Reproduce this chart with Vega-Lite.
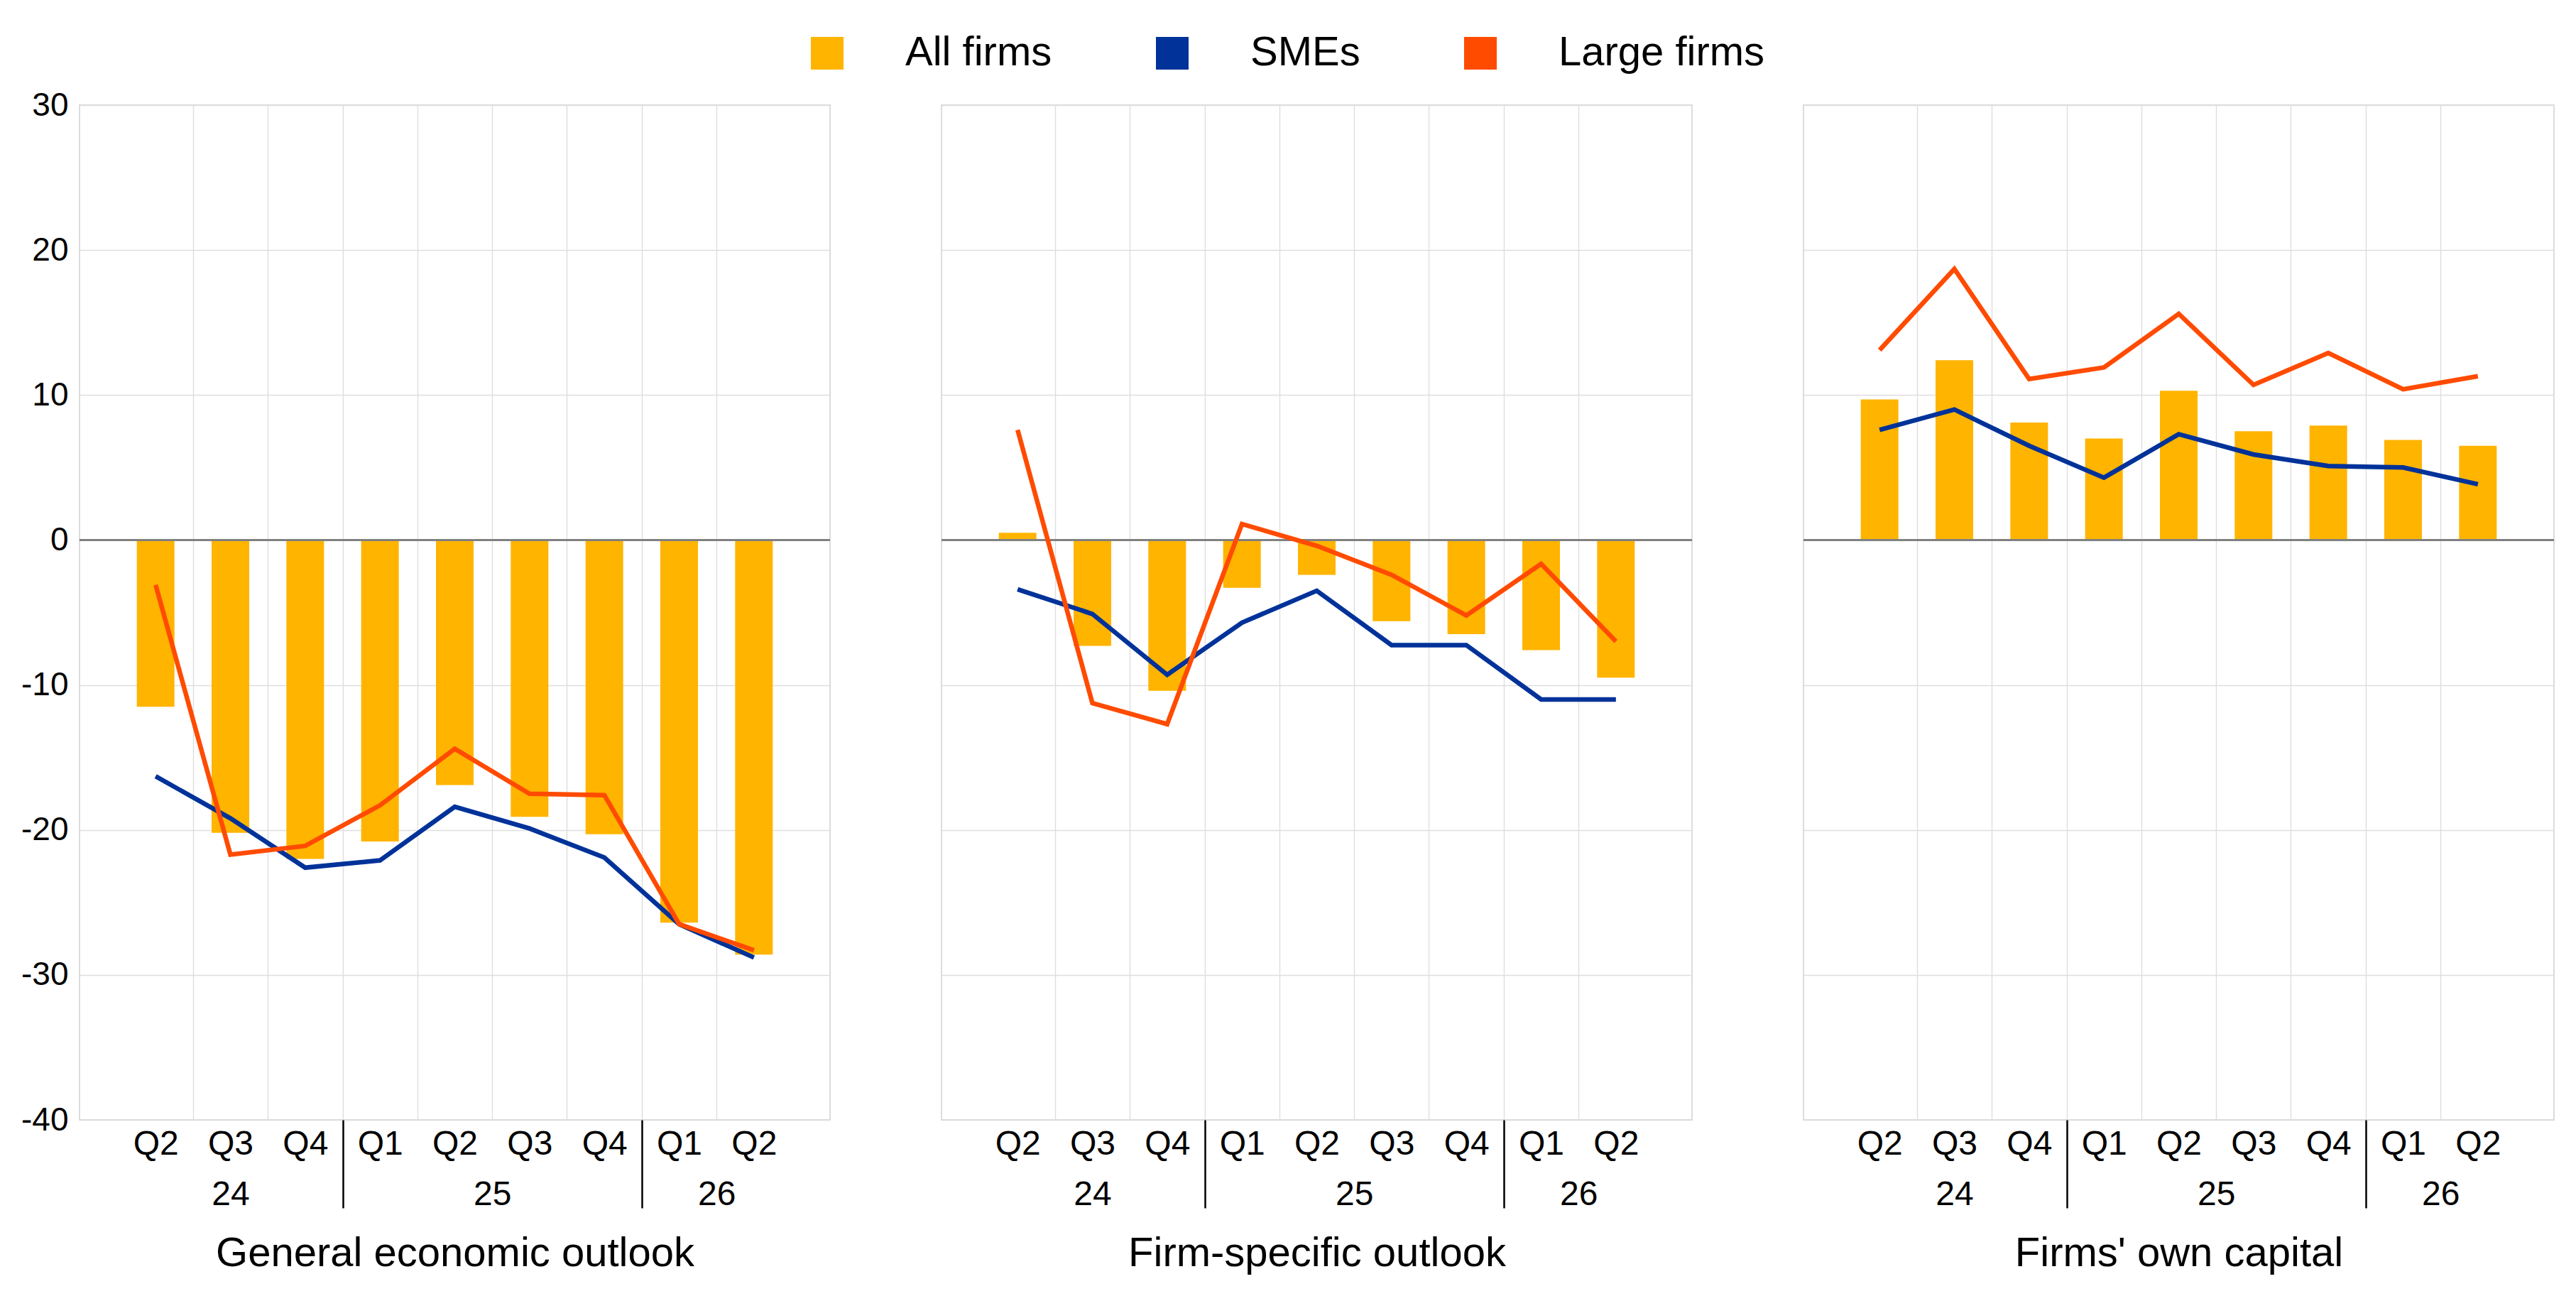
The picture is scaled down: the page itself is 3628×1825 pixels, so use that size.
{
  "$schema": "https://vega.github.io/schema/vega-lite/v6.json",
  "padding": {"left": 28, "top": 46, "right": 0, "bottom": 0},
  "background": "white",
  "config": {
    "font": "Liberation Sans",
    "view": {"stroke": "#d9d9d9", "strokeWidth": 1.8},
    "axis": {"labelFont": "Liberation Sans", "titleFont": "Liberation Sans", "labelColor": "black", "titleColor": "black", "gridColor": "#dedede", "gridWidth": 1.4},
    "legend": {"labelFont": "Liberation Sans"}
  },
  "data": {"values": [
    {"panel": "General economic outlook", "idx": 1, "quarter": "Q2", "year": "24", "series": "All firms", "value": -11.5},
    {"panel": "General economic outlook", "idx": 2, "quarter": "Q3", "year": "24", "series": "All firms", "value": -20.2},
    {"panel": "General economic outlook", "idx": 3, "quarter": "Q4", "year": "24", "series": "All firms", "value": -22.0},
    {"panel": "General economic outlook", "idx": 4, "quarter": "Q1", "year": "25", "series": "All firms", "value": -20.8},
    {"panel": "General economic outlook", "idx": 5, "quarter": "Q2", "year": "25", "series": "All firms", "value": -16.9},
    {"panel": "General economic outlook", "idx": 6, "quarter": "Q3", "year": "25", "series": "All firms", "value": -19.1},
    {"panel": "General economic outlook", "idx": 7, "quarter": "Q4", "year": "25", "series": "All firms", "value": -20.3},
    {"panel": "General economic outlook", "idx": 8, "quarter": "Q1", "year": "26", "series": "All firms", "value": -26.4},
    {"panel": "General economic outlook", "idx": 9, "quarter": "Q2", "year": "26", "series": "All firms", "value": -28.6},
    {"panel": "General economic outlook", "idx": 1, "quarter": "Q2", "year": "24", "series": "SMEs", "value": -16.3},
    {"panel": "General economic outlook", "idx": 2, "quarter": "Q3", "year": "24", "series": "SMEs", "value": -19.2},
    {"panel": "General economic outlook", "idx": 3, "quarter": "Q4", "year": "24", "series": "SMEs", "value": -22.6},
    {"panel": "General economic outlook", "idx": 4, "quarter": "Q1", "year": "25", "series": "SMEs", "value": -22.1},
    {"panel": "General economic outlook", "idx": 5, "quarter": "Q2", "year": "25", "series": "SMEs", "value": -18.4},
    {"panel": "General economic outlook", "idx": 6, "quarter": "Q3", "year": "25", "series": "SMEs", "value": -19.9},
    {"panel": "General economic outlook", "idx": 7, "quarter": "Q4", "year": "25", "series": "SMEs", "value": -21.9},
    {"panel": "General economic outlook", "idx": 8, "quarter": "Q1", "year": "26", "series": "SMEs", "value": -26.5},
    {"panel": "General economic outlook", "idx": 9, "quarter": "Q2", "year": "26", "series": "SMEs", "value": -28.8},
    {"panel": "General economic outlook", "idx": 1, "quarter": "Q2", "year": "24", "series": "Large firms", "value": -3.1},
    {"panel": "General economic outlook", "idx": 2, "quarter": "Q3", "year": "24", "series": "Large firms", "value": -21.7},
    {"panel": "General economic outlook", "idx": 3, "quarter": "Q4", "year": "24", "series": "Large firms", "value": -21.1},
    {"panel": "General economic outlook", "idx": 4, "quarter": "Q1", "year": "25", "series": "Large firms", "value": -18.3},
    {"panel": "General economic outlook", "idx": 5, "quarter": "Q2", "year": "25", "series": "Large firms", "value": -14.4},
    {"panel": "General economic outlook", "idx": 6, "quarter": "Q3", "year": "25", "series": "Large firms", "value": -17.5},
    {"panel": "General economic outlook", "idx": 7, "quarter": "Q4", "year": "25", "series": "Large firms", "value": -17.6},
    {"panel": "General economic outlook", "idx": 8, "quarter": "Q1", "year": "26", "series": "Large firms", "value": -26.5},
    {"panel": "General economic outlook", "idx": 9, "quarter": "Q2", "year": "26", "series": "Large firms", "value": -28.3},

    {"panel": "Firm-specific outlook", "idx": 1, "quarter": "Q2", "year": "24", "series": "All firms", "value": 0.5},
    {"panel": "Firm-specific outlook", "idx": 2, "quarter": "Q3", "year": "24", "series": "All firms", "value": -7.3},
    {"panel": "Firm-specific outlook", "idx": 3, "quarter": "Q4", "year": "24", "series": "All firms", "value": -10.4},
    {"panel": "Firm-specific outlook", "idx": 4, "quarter": "Q1", "year": "25", "series": "All firms", "value": -3.3},
    {"panel": "Firm-specific outlook", "idx": 5, "quarter": "Q2", "year": "25", "series": "All firms", "value": -2.4},
    {"panel": "Firm-specific outlook", "idx": 6, "quarter": "Q3", "year": "25", "series": "All firms", "value": -5.6},
    {"panel": "Firm-specific outlook", "idx": 7, "quarter": "Q4", "year": "25", "series": "All firms", "value": -6.5},
    {"panel": "Firm-specific outlook", "idx": 8, "quarter": "Q1", "year": "26", "series": "All firms", "value": -7.6},
    {"panel": "Firm-specific outlook", "idx": 9, "quarter": "Q2", "year": "26", "series": "All firms", "value": -9.5},
    {"panel": "Firm-specific outlook", "idx": 1, "quarter": "Q2", "year": "24", "series": "SMEs", "value": -3.4},
    {"panel": "Firm-specific outlook", "idx": 2, "quarter": "Q3", "year": "24", "series": "SMEs", "value": -5.1},
    {"panel": "Firm-specific outlook", "idx": 3, "quarter": "Q4", "year": "24", "series": "SMEs", "value": -9.3},
    {"panel": "Firm-specific outlook", "idx": 4, "quarter": "Q1", "year": "25", "series": "SMEs", "value": -5.7},
    {"panel": "Firm-specific outlook", "idx": 5, "quarter": "Q2", "year": "25", "series": "SMEs", "value": -3.5},
    {"panel": "Firm-specific outlook", "idx": 6, "quarter": "Q3", "year": "25", "series": "SMEs", "value": -7.25},
    {"panel": "Firm-specific outlook", "idx": 7, "quarter": "Q4", "year": "25", "series": "SMEs", "value": -7.25},
    {"panel": "Firm-specific outlook", "idx": 8, "quarter": "Q1", "year": "26", "series": "SMEs", "value": -11.0},
    {"panel": "Firm-specific outlook", "idx": 9, "quarter": "Q2", "year": "26", "series": "SMEs", "value": -11.0},
    {"panel": "Firm-specific outlook", "idx": 1, "quarter": "Q2", "year": "24", "series": "Large firms", "value": 7.6},
    {"panel": "Firm-specific outlook", "idx": 2, "quarter": "Q3", "year": "24", "series": "Large firms", "value": -11.25},
    {"panel": "Firm-specific outlook", "idx": 3, "quarter": "Q4", "year": "24", "series": "Large firms", "value": -12.7},
    {"panel": "Firm-specific outlook", "idx": 4, "quarter": "Q1", "year": "25", "series": "Large firms", "value": 1.1},
    {"panel": "Firm-specific outlook", "idx": 5, "quarter": "Q2", "year": "25", "series": "Large firms", "value": -0.4},
    {"panel": "Firm-specific outlook", "idx": 6, "quarter": "Q3", "year": "25", "series": "Large firms", "value": -2.4},
    {"panel": "Firm-specific outlook", "idx": 7, "quarter": "Q4", "year": "25", "series": "Large firms", "value": -5.2},
    {"panel": "Firm-specific outlook", "idx": 8, "quarter": "Q1", "year": "26", "series": "Large firms", "value": -1.65},
    {"panel": "Firm-specific outlook", "idx": 9, "quarter": "Q2", "year": "26", "series": "Large firms", "value": -7.0},

    {"panel": "Firms' own capital", "idx": 1, "quarter": "Q2", "year": "24", "series": "All firms", "value": 9.7},
    {"panel": "Firms' own capital", "idx": 2, "quarter": "Q3", "year": "24", "series": "All firms", "value": 12.4},
    {"panel": "Firms' own capital", "idx": 3, "quarter": "Q4", "year": "24", "series": "All firms", "value": 8.1},
    {"panel": "Firms' own capital", "idx": 4, "quarter": "Q1", "year": "25", "series": "All firms", "value": 7.0},
    {"panel": "Firms' own capital", "idx": 5, "quarter": "Q2", "year": "25", "series": "All firms", "value": 10.3},
    {"panel": "Firms' own capital", "idx": 6, "quarter": "Q3", "year": "25", "series": "All firms", "value": 7.5},
    {"panel": "Firms' own capital", "idx": 7, "quarter": "Q4", "year": "25", "series": "All firms", "value": 7.9},
    {"panel": "Firms' own capital", "idx": 8, "quarter": "Q1", "year": "26", "series": "All firms", "value": 6.9},
    {"panel": "Firms' own capital", "idx": 9, "quarter": "Q2", "year": "26", "series": "All firms", "value": 6.5},
    {"panel": "Firms' own capital", "idx": 1, "quarter": "Q2", "year": "24", "series": "SMEs", "value": 7.6},
    {"panel": "Firms' own capital", "idx": 2, "quarter": "Q3", "year": "24", "series": "SMEs", "value": 9.0},
    {"panel": "Firms' own capital", "idx": 3, "quarter": "Q4", "year": "24", "series": "SMEs", "value": 6.5},
    {"panel": "Firms' own capital", "idx": 4, "quarter": "Q1", "year": "25", "series": "SMEs", "value": 4.3},
    {"panel": "Firms' own capital", "idx": 5, "quarter": "Q2", "year": "25", "series": "SMEs", "value": 7.3},
    {"panel": "Firms' own capital", "idx": 6, "quarter": "Q3", "year": "25", "series": "SMEs", "value": 5.9},
    {"panel": "Firms' own capital", "idx": 7, "quarter": "Q4", "year": "25", "series": "SMEs", "value": 5.1},
    {"panel": "Firms' own capital", "idx": 8, "quarter": "Q1", "year": "26", "series": "SMEs", "value": 5.0},
    {"panel": "Firms' own capital", "idx": 9, "quarter": "Q2", "year": "26", "series": "SMEs", "value": 3.85},
    {"panel": "Firms' own capital", "idx": 1, "quarter": "Q2", "year": "24", "series": "Large firms", "value": 13.1},
    {"panel": "Firms' own capital", "idx": 2, "quarter": "Q3", "year": "24", "series": "Large firms", "value": 18.7},
    {"panel": "Firms' own capital", "idx": 3, "quarter": "Q4", "year": "24", "series": "Large firms", "value": 11.1},
    {"panel": "Firms' own capital", "idx": 4, "quarter": "Q1", "year": "25", "series": "Large firms", "value": 11.9},
    {"panel": "Firms' own capital", "idx": 5, "quarter": "Q2", "year": "25", "series": "Large firms", "value": 15.6},
    {"panel": "Firms' own capital", "idx": 6, "quarter": "Q3", "year": "25", "series": "Large firms", "value": 10.7},
    {"panel": "Firms' own capital", "idx": 7, "quarter": "Q4", "year": "25", "series": "Large firms", "value": 12.9},
    {"panel": "Firms' own capital", "idx": 8, "quarter": "Q1", "year": "26", "series": "Large firms", "value": 10.4},
    {"panel": "Firms' own capital", "idx": 9, "quarter": "Q2", "year": "26", "series": "Large firms", "value": 11.3}
  ]},
  "spacing": 151,
  "hconcat": [
    {
      "width": 1057, "height": 1429,
      "transform": [{"filter": "datum.panel === 'General economic outlook'"}],
      "layer": [
        {
          "transform": [{"filter": "datum.series === 'All firms'"}],
          "mark": {"type": "bar", "width": 53, "orient": "vertical"},
          "encoding": {
            "x": {"field": "idx", "type": "quantitative", "scale": {"domain": [0.03, 9.97], "nice": false, "zero": false},
              "axis": {"orient": "bottom", "values": [1, 2, 3, 4, 5, 5.5, 6, 7, 8, 8.5, 9],
                "labelExpr": "datum.value == 2 ? ['Q3', '24'] : datum.value == 5.5 ? ['', '25'] : datum.value == 8.5 ? ['', '26'] : ['Q2','Q3','Q4','Q1','Q2','Q3','Q4','Q1','Q2'][datum.value - 1]",
                "grid": false, "ticks": false, "domain": false, "labelFontSize": 48, "labelPadding": 10, "labelLineHeight": 71, "labelBaseline": "top", "labelOverlap": false, "labelFlush": false, "labelBound": false,
                "title": "General economic outlook", "titleFontSize": 58, "titleFontWeight": "normal", "titlePadding": 30}},
            "y": {"field": "value", "type": "quantitative", "scale": {"domain": [-40, 30], "nice": false},
              "axis": {"values": [-40, -30, -20, -10, 0, 10, 20, 30], "labelExpr": "'' + datum.value", "title": null, "ticks": false, "domain": false, "labelFontSize": 46, "labelPadding": 16, "grid": true}},
            "color": {"field": "series", "type": "nominal",
              "scale": {"domain": ["All firms", "SMEs", "Large firms"], "range": ["#FFB400", "#003299", "#FF4B00"]},
              "legend": {"orient": "none", "legendX": 1024, "legendY": -102, "direction": "horizontal", "title": null, "symbolType": "square", "symbolSize": 2116, "symbolStrokeWidth": 0, "labelFontSize": 58, "labelOffset": 81, "columnPadding": 140, "labelColor": "black", "labelLimit": 1000}}
          }
        },
        {"mark": {"type": "rule", "color": "#808080", "strokeWidth": 2.7}, "encoding": {"y": {"datum": 0}}},
        {
          "transform": [{"filter": "datum.series !== 'All firms'"}],
          "mark": {"type": "line", "strokeWidth": 6.5},
          "encoding": {
            "x": {"field": "idx", "type": "quantitative",
              "axis": {"orient": "bottom", "values": [1.5, 2.5, 3.5, 4.5, 5.5, 6.5, 7.5, 8.5], "labels": false, "domain": false, "grid": true, "ticks": true, "tickSize": 124, "tickWidth": 2.5,
                "tickColor": {"condition": {"test": "datum.value == 3.5 || datum.value == 7.5", "value": "black"}, "value": "rgba(0,0,0,0)"}, "title": null}},
            "y": {"field": "value", "type": "quantitative"},
            "color": {"field": "series", "type": "nominal", "legend": null}
          }
        }
      ],
      "resolve": {"axis": {"x": "independent"}}
    },
    {
      "width": 1057, "height": 1429,
      "transform": [{"filter": "datum.panel === 'Firm-specific outlook'"}],
      "layer": [
        {
          "transform": [{"filter": "datum.series === 'All firms'"}],
          "mark": {"type": "bar", "width": 53, "orient": "vertical"},
          "encoding": {
            "x": {"field": "idx", "type": "quantitative", "scale": {"domain": [0.03, 9.97], "nice": false, "zero": false},
              "axis": {"orient": "bottom", "values": [1, 2, 3, 4, 5, 5.5, 6, 7, 8, 8.5, 9],
                "labelExpr": "datum.value == 2 ? ['Q3', '24'] : datum.value == 5.5 ? ['', '25'] : datum.value == 8.5 ? ['', '26'] : ['Q2','Q3','Q4','Q1','Q2','Q3','Q4','Q1','Q2'][datum.value - 1]",
                "grid": false, "ticks": false, "domain": false, "labelFontSize": 48, "labelPadding": 10, "labelLineHeight": 71, "labelBaseline": "top", "labelOverlap": false, "labelFlush": false, "labelBound": false,
                "title": "Firm-specific outlook", "titleFontSize": 58, "titleFontWeight": "normal", "titlePadding": 30}},
            "y": {"field": "value", "type": "quantitative", "scale": {"domain": [-40, 30], "nice": false},
              "axis": {"values": [-40, -30, -20, -10, 0, 10, 20, 30], "title": null, "ticks": false, "domain": false, "labels": false, "grid": true}},
            "color": {"field": "series", "type": "nominal",
              "scale": {"domain": ["All firms", "SMEs", "Large firms"], "range": ["#FFB400", "#003299", "#FF4B00"]},
              "legend": {"orient": "none", "legendX": 1024, "legendY": -102, "direction": "horizontal", "title": null, "symbolType": "square", "symbolSize": 2116, "symbolStrokeWidth": 0, "labelFontSize": 58, "labelOffset": 81, "columnPadding": 140, "labelColor": "black", "labelLimit": 1000}}
          }
        },
        {"mark": {"type": "rule", "color": "#808080", "strokeWidth": 2.7}, "encoding": {"y": {"datum": 0}}},
        {
          "transform": [{"filter": "datum.series !== 'All firms'"}],
          "mark": {"type": "line", "strokeWidth": 6.5},
          "encoding": {
            "x": {"field": "idx", "type": "quantitative",
              "axis": {"orient": "bottom", "values": [1.5, 2.5, 3.5, 4.5, 5.5, 6.5, 7.5, 8.5], "labels": false, "domain": false, "grid": true, "ticks": true, "tickSize": 124, "tickWidth": 2.5,
                "tickColor": {"condition": {"test": "datum.value == 3.5 || datum.value == 7.5", "value": "black"}, "value": "rgba(0,0,0,0)"}, "title": null}},
            "y": {"field": "value", "type": "quantitative"},
            "color": {"field": "series", "type": "nominal", "legend": null}
          }
        }
      ],
      "resolve": {"axis": {"x": "independent"}}
    },
    {
      "width": 1057, "height": 1429,
      "transform": [{"filter": "datum.panel === \"Firms' own capital\""}],
      "layer": [
        {
          "transform": [{"filter": "datum.series === 'All firms'"}],
          "mark": {"type": "bar", "width": 53, "orient": "vertical"},
          "encoding": {
            "x": {"field": "idx", "type": "quantitative", "scale": {"domain": [0.03, 9.97], "nice": false, "zero": false},
              "axis": {"orient": "bottom", "values": [1, 2, 3, 4, 5, 5.5, 6, 7, 8, 8.5, 9],
                "labelExpr": "datum.value == 2 ? ['Q3', '24'] : datum.value == 5.5 ? ['', '25'] : datum.value == 8.5 ? ['', '26'] : ['Q2','Q3','Q4','Q1','Q2','Q3','Q4','Q1','Q2'][datum.value - 1]",
                "grid": false, "ticks": false, "domain": false, "labelFontSize": 48, "labelPadding": 10, "labelLineHeight": 71, "labelBaseline": "top", "labelOverlap": false, "labelFlush": false, "labelBound": false,
                "title": "Firms' own capital", "titleFontSize": 58, "titleFontWeight": "normal", "titlePadding": 30}},
            "y": {"field": "value", "type": "quantitative", "scale": {"domain": [-40, 30], "nice": false},
              "axis": {"values": [-40, -30, -20, -10, 0, 10, 20, 30], "title": null, "ticks": false, "domain": false, "labels": false, "grid": true}},
            "color": {"field": "series", "type": "nominal",
              "scale": {"domain": ["All firms", "SMEs", "Large firms"], "range": ["#FFB400", "#003299", "#FF4B00"]},
              "legend": {"orient": "none", "legendX": 1024, "legendY": -102, "direction": "horizontal", "title": null, "symbolType": "square", "symbolSize": 2116, "symbolStrokeWidth": 0, "labelFontSize": 58, "labelOffset": 81, "columnPadding": 140, "labelColor": "black", "labelLimit": 1000}}
          }
        },
        {"mark": {"type": "rule", "color": "#808080", "strokeWidth": 2.7}, "encoding": {"y": {"datum": 0}}},
        {
          "transform": [{"filter": "datum.series !== 'All firms'"}],
          "mark": {"type": "line", "strokeWidth": 6.5},
          "encoding": {
            "x": {"field": "idx", "type": "quantitative",
              "axis": {"orient": "bottom", "values": [1.5, 2.5, 3.5, 4.5, 5.5, 6.5, 7.5, 8.5], "labels": false, "domain": false, "grid": true, "ticks": true, "tickSize": 124, "tickWidth": 2.5,
                "tickColor": {"condition": {"test": "datum.value == 3.5 || datum.value == 7.5", "value": "black"}, "value": "rgba(0,0,0,0)"}, "title": null}},
            "y": {"field": "value", "type": "quantitative"},
            "color": {"field": "series", "type": "nominal", "legend": null}
          }
        }
      ],
      "resolve": {"axis": {"x": "independent"}}
    }
  ]
}
